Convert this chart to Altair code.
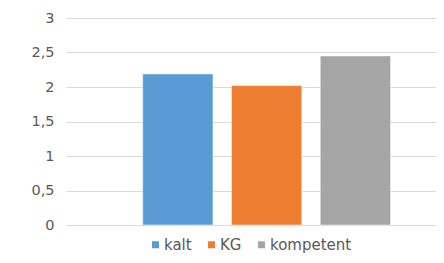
import altair as alt
import pandas as pd

series = ["kalt", "KG", "kompetent"]
values = [2.19, 2.02, 2.45]
colors = ["#5B9BD5", "#ED7D31", "#A5A5A5"]
y_ticks = [0, 0.5, 1, 1.5, 2, 2.5, 3]

df = pd.DataFrame({"series": series, "value": values})

font = "DejaVu Sans"
label_color = "#595959"

chart = alt.Chart(df).mark_bar(stroke="#ffffff", strokeOpacity=0.5, strokeWidth=1).encode(
    x=alt.X("series:N", sort=series,
            scale=alt.Scale(domain=series, paddingInner=0.208, paddingOuter=0.6875, align=0.628),
            axis=None),
    y=alt.Y("value:Q", scale=alt.Scale(domain=[0, 3], nice=False),
            axis=alt.Axis(values=y_ticks, title=None, domain=False, ticks=False,
                          labelPadding=12, labelFont=font, labelFontSize=14.5,
                          labelColor=label_color, gridColor="#d9d9d9", gridWidth=1,
                          labelExpr="replace(format(datum.value, ''), '.', ',')")),
    color=alt.Color("series:N", sort=series,
                    scale=alt.Scale(domain=series, range=colors),
                    legend=alt.Legend(title=None, orient="none", direction="horizontal",
                                      legendX=82, legendY=219, symbolType="square",
                                      symbolSize=49, symbolStrokeWidth=0, labelFont=font,
                                      labelFontSize=15, labelColor=label_color,
                                      labelOffset=1, columnPadding=12)),
).properties(
    width=370, height=207,
    autosize=alt.AutoSizeParams(type="none"),
    padding={"left": 58, "top": 10, "right": 0, "bottom": 30},
).configure_view(stroke=None)

chart.save("out.html", embed_options={"renderer": "svg", "actions": False})
